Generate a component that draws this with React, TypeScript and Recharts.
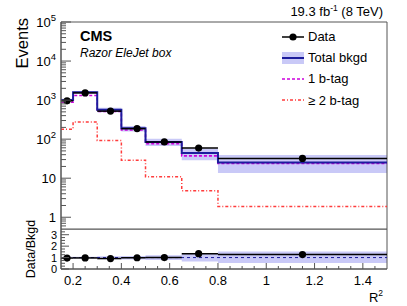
import React from 'react';
import {
  ComposedChart,
  Line,
  Area,
  Scatter,
  ErrorBar,
  XAxis,
  YAxis,
  ReferenceLine,
  ReferenceArea,
  Legend,
} from 'recharts';

// ---- data ----
const binEdges = [0.15, 0.2, 0.3, 0.4, 0.5, 0.65, 0.8, 1.5];
const totalBkgd = [1000, 1580, 570, 189, 85, 44, 25.4];
const bkgdLow = [930, 1480, 490, 156, 67, 29, 13.5];
const bkgdHigh = [1080, 1700, 640, 217, 103, 58, 39];
const oneBtag = [880, 1310, 510, 171, 77, 37.4, 24];
const twoBtag = [179, 274, 92, 29, 10.9, 4.8, 1.88];
const dataX = [0.175, 0.25, 0.355, 0.465, 0.578, 0.72, 1.15];
const dataY = [960, 1530, 522, 186, 85, 59, 32];
const xMajorTicks = [0.2, 0.4, 0.6, 0.8, 1, 1.2, 1.4];
const xMajorLabels = ['0.2', '0.4', '0.6', '0.8', '1', '1.2', '1.4'];
const ratioMajorTicks = [0, 1, 2, 3];
const legendLabels = ['Data', 'Total bkgd', '1 b-tag', '\u2265 2 b-tag'];

const X_DOMAIN: [number, number] = [0.15, 1.5];
const Y_DOMAIN: [number, number] = [0.5, 100000];
const R_DOMAIN: [number, number] = [0, 3.5];

const FONT = '"Liberation Sans", Arial, Helvetica, sans-serif';
const FRAME = '#555';
const BAND = '#c9c9f7';
const BLUE = '#1c1c9c';
const MAGENTA = '#cc00dd';
const RED = '#ff3c3c';

// histogram table (step after; last edge repeats last bin)
const histRows = binEdges.map((x, i) => {
  const k = Math.min(i, totalBkgd.length - 1);
  return {
    x,
    total: totalBkgd[k],
    oneB: oneBtag[k],
    twoB: twoBtag[k],
    band: [bkgdLow[k], bkgdHigh[k]],
    rBand: [bkgdLow[k] / totalBkgd[k], bkgdHigh[k] / totalBkgd[k]],
  };
});

const pointRows = dataX.map((x, i) => ({
  x,
  y: dataY[i],
  ratio: dataY[i] / totalBkgd[i],
  xerr: [x - binEdges[i], binEdges[i + 1] - x],
}));

// axis tick positions (decoration)
const xTicks: number[] = [];
for (let k = 4; k <= 29; k++) xTicks.push(Math.round(k * 5) / 100);
const isXMajor = (v: number) => xMajorTicks.some((m) => Math.abs(m - v) < 1e-6);

const yTicks: number[] = [];
for (let e = -1; e <= 4; e++) {
  for (let m = 1; m <= 9; m++) {
    const v = m * Math.pow(10, e);
    if (v > 0.55 && v < 100001) yTicks.push(v);
  }
}
yTicks.push(100000);
const rTicks: number[] = [];
for (let k = 0; k <= 13; k++) rTicks.push(k * 0.25);

const UpperXTick = (p: any) => {
  const { x, y, payload } = p;
  const major = isXMajor(payload.value);
  return (
    <line x1={x} x2={x} y1={y} y2={y - (major ? 6 : 3)} stroke={FRAME} strokeWidth={1} />
  );
};

const LowerXTick = (p: any) => {
  const { x, y, payload } = p;
  const v = payload.value;
  const idx = xMajorTicks.findIndex((m) => Math.abs(m - v) < 1e-6);
  const major = idx >= 0;
  return (
    <g>
      <line x1={x} x2={x} y1={y} y2={y - (major ? 6 : 3)} stroke={FRAME} strokeWidth={1} />
      {major && (
        <text x={x} y={y + 16} textAnchor="middle" fontSize={13} fontFamily={FONT} fill="#000">
          {xMajorLabels[idx]}
        </text>
      )}
    </g>
  );
};

const UpperYTick = (p: any) => {
  const { x, y, payload } = p;
  const v = payload.value;
  const lg = Math.log10(v);
  const e = Math.round(lg);
  const major = Math.abs(lg - e) < 1e-6;
  let label: any = null;
  if (major) {
    if (e === 0 || e === 1) {
      label = (
        <text x={x - 5} y={y + 5} textAnchor="end" fontSize={13} fontFamily={FONT} fill="#000">
          {e === 0 ? '1' : '10'}
        </text>
      );
    } else {
      label = (
        <text x={x - 5} y={y + 5} textAnchor="end" fontSize={13} fontFamily={FONT} fill="#000">
          10
          <tspan dy={-6} fontSize={9.5}>
            {String(e)}
          </tspan>
        </text>
      );
    }
  }
  return (
    <g>
      <line x1={x} x2={x + (major ? 10 : 5)} y1={y} y2={y} stroke={FRAME} strokeWidth={1} />
      {label}
    </g>
  );
};

const RatioYTick = (p: any) => {
  const { x, y, payload } = p;
  const v = payload.value;
  const major = ratioMajorTicks.some((m) => Math.abs(m - v) < 1e-6);
  return (
    <g>
      <line x1={x} x2={x + (major ? 8 : 4)} y1={y} y2={y} stroke={FRAME} strokeWidth={1} />
      {major && (
        <text x={x - 4} y={y + 4} textAnchor="end" fontSize={11} fontFamily={FONT} fill="#000">
          {String(v)}
        </text>
      )}
    </g>
  );
};

const DataDot = (p: any) => {
  const { cx, cy } = p;
  if (cx == null || cy == null) return null;
  return <circle cx={cx} cy={cy} r={3.6} fill="#000" />;
};

const LegendSymbol = ({ i }: { i: number }) => {
  const w = 24;
  const h = 16;
  if (i === 0)
    return (
      <svg width={w} height={h}>
        <line x1={1} x2={w - 1} y1={h / 2} y2={h / 2} stroke="#000" strokeWidth={1.5} />
        <circle cx={w / 2} cy={h / 2} r={3.6} fill="#000" />
      </svg>
    );
  if (i === 1)
    return (
      <svg width={w} height={h}>
        <rect x={1} y={2} width={w - 2} height={h - 4} fill={BAND} />
        <line x1={1} x2={w - 1} y1={h / 2} y2={h / 2} stroke={BLUE} strokeWidth={2} />
      </svg>
    );
  if (i === 2)
    return (
      <svg width={w} height={h}>
        <line x1={1} x2={w - 1} y1={h / 2} y2={h / 2} stroke={MAGENTA} strokeWidth={1.5} strokeDasharray="3 2" />
      </svg>
    );
  return (
    <svg width={w} height={h}>
      <line x1={1} x2={w - 1} y1={h / 2} y2={h / 2} stroke={RED} strokeWidth={1.5} strokeDasharray="3 2 1 2" />
    </svg>
  );
};

const renderLegend = () => (
  <div style={{ fontFamily: FONT, fontSize: 13, color: '#000' }}>
    {legendLabels.map((lab, i) => (
      <div key={lab} style={{ display: 'flex', alignItems: 'center', height: 21.2 }}>
        <LegendSymbol i={i} />
        <span style={{ marginLeft: 3, whiteSpace: 'nowrap' }}>{lab}</span>
      </div>
    ))}
  </div>
);

export default function App() {
  return (
    <div
      style={{
        position: 'absolute',
        left: 0,
        top: 0,
        width: 407,
        height: 306,
        background: '#fff',
        fontFamily: FONT,
        overflow: 'hidden',
      }}
    >
      <div style={{ position: 'absolute', left: 0, top: 0 }}>
        <ComposedChart
          width={407}
          height={230}
          data={histRows}
          margin={{ top: 22, right: 20, bottom: 1, left: 0 }}
        >
          <XAxis
            dataKey="x"
            type="number"
            domain={X_DOMAIN}
            allowDataOverflow
            ticks={xTicks}
            interval={0}
            tickSize={0}
            tickMargin={0}
            height={0}
            tick={(p: any) => <UpperXTick {...p} />}
            axisLine={{ stroke: FRAME }}
          />
          <YAxis
            type="number"
            scale="log"
            domain={Y_DOMAIN}
            allowDataOverflow
            ticks={yTicks}
            interval={0}
            tickSize={0}
            tickMargin={0}
            width={61}
            tick={(p: any) => <UpperYTick {...p} />}
            axisLine={{ stroke: FRAME }}
          />
          <Area
            dataKey="band"
            type="stepAfter"
            fill={BAND}
            fillOpacity={1}
            stroke="none"
            isAnimationActive={false}
            legendType="none"
          />
          <Line
            dataKey="twoB"
            type="stepAfter"
            stroke={RED}
            strokeWidth={1.5}
            strokeDasharray="3 2 1 2"
            dot={false}
            isAnimationActive={false}
          />
          <Line
            dataKey="oneB"
            type="stepAfter"
            stroke={MAGENTA}
            strokeWidth={1.6}
            strokeDasharray="3 2"
            dot={false}
            isAnimationActive={false}
          />
          <Line
            dataKey="total"
            type="stepAfter"
            stroke={BLUE}
            strokeWidth={2}
            dot={false}
            isAnimationActive={false}
          />
          <Scatter data={pointRows} dataKey="y" shape={DataDot} isAnimationActive={false}>
            <ErrorBar dataKey="xerr" direction="x" width={0} stroke="#000" strokeWidth={1.5} />
          </Scatter>
          <ReferenceArea
            x1={X_DOMAIN[0]}
            x2={X_DOMAIN[1]}
            y1={Y_DOMAIN[0]}
            y2={Y_DOMAIN[1]}
            fill="none"
            stroke={FRAME}
            strokeWidth={1}
            ifOverflow="visible"
          />
          <Legend
            layout="vertical"
            align="center"
            verticalAlign="middle"
            content={renderLegend}
            wrapperStyle={{ position: 'absolute', left: 281, top: 26, width: 120 }}
          />
        </ComposedChart>
      </div>

      <div style={{ position: 'absolute', left: 0, top: 229 }}>
        <ComposedChart
          width={407}
          height={77}
          data={histRows}
          margin={{ top: 0, right: 20, bottom: 0, left: 0 }}
        >
          <XAxis
            dataKey="x"
            type="number"
            domain={X_DOMAIN}
            allowDataOverflow
            ticks={xTicks}
            interval={0}
            tickSize={0}
            tickMargin={0}
            height={37}
            tick={(p: any) => <LowerXTick {...p} />}
            axisLine={{ stroke: FRAME }}
          />
          <YAxis
            type="number"
            domain={R_DOMAIN}
            allowDataOverflow
            ticks={rTicks}
            interval={0}
            tickSize={0}
            tickMargin={0}
            width={61}
            tick={(p: any) => <RatioYTick {...p} />}
            axisLine={{ stroke: FRAME }}
          />
          <Area
            dataKey="rBand"
            type="stepAfter"
            fill={BAND}
            fillOpacity={1}
            stroke="none"
            isAnimationActive={false}
          />
          <ReferenceLine y={1} stroke={BLUE} strokeWidth={1} strokeDasharray="3 3" />
          <Scatter data={pointRows} dataKey="ratio" shape={DataDot} isAnimationActive={false}>
            <ErrorBar dataKey="xerr" direction="x" width={0} stroke="#000" strokeWidth={1.5} />
          </Scatter>
          <ReferenceArea
            x1={X_DOMAIN[0]}
            x2={X_DOMAIN[1]}
            y1={R_DOMAIN[0]}
            y2={R_DOMAIN[1]}
            fill="none"
            stroke={FRAME}
            strokeWidth={1}
            ifOverflow="visible"
          />
        </ComposedChart>
      </div>

      <svg
        width={407}
        height={306}
        style={{ position: 'absolute', left: 0, top: 0, pointerEvents: 'none' }}
        fontFamily={FONT}
      >
        <text x={383} y={16} textAnchor="end" fontSize={13} fill="#000">
          19.3 fb
          <tspan dy={-5} fontSize={8.5}>
            -1
          </tspan>
          <tspan dy={5}> (8 TeV)</tspan>
        </text>
        <text x={80} y={41} fontSize={14.5} fontWeight="bold" fill="#000">
          CMS
        </text>
        <text x={80} y={57} fontSize={12} fontStyle="italic" fill="#000">
          Razor EleJet box
        </text>
        <text transform="translate(28,18) rotate(-90)" textAnchor="end" fontSize={16.5} fill="#000">
          Events
        </text>
        <text transform="translate(35,249) rotate(-90)" textAnchor="middle" fontSize={12.5} fill="#000">
          Data/Bkgd
        </text>
        <text x={383} y={302} textAnchor="end" fontSize={13} fill="#000">
          R
          <tspan dy={-6} fontSize={8.5}>
            2
          </tspan>
        </text>
      </svg>
    </div>
  );
}
